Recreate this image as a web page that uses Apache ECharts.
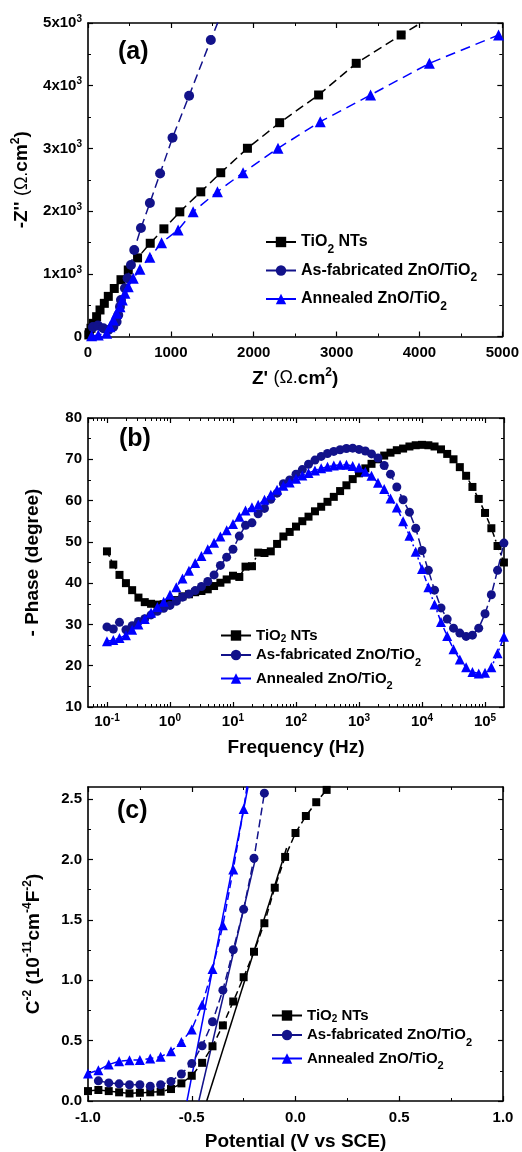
<!DOCTYPE html>
<html><head><meta charset="utf-8">
<script src="https://cdn.jsdelivr.net/npm/echarts@6/dist/echarts.min.js"></script>
<style>html,body{margin:0;padding:0;background:#fff}#c{width:522px;height:1152px}</style>
</head><body><div id="c"></div><script>
// ---------- DATA ----------
const NAMES = ['TiO2 NTs', 'As-fabricated ZnO/TiO2', 'Annealed ZnO/TiO2'];

// (a) Nyquist: Z' and -Z'' (ohm.cm2)
const A_TIO2_ZRE = [10,16,36,64,104,145,197,245,317,398,486,598,751,916,1108,1361,1602,1924,2313,2783,3237,3779,4330];
const A_TIO2_ZIM = [25,61,131,210,316,423,529,640,766,906,1061,1254,1487,1717,1988,2307,2612,3002,3410,3852,4357,4809,5250];
const A_ASF_ZRE = [60,120,185,245,305,345,365,386,398,446,478,518,558,639,747,870,1020,1220,1482,1700];
const A_ASF_ZIM = [150,175,131,104,156,236,343,475,582,769,928,1140,1380,1730,2130,2600,3171,3840,4729,5450];
const A_ANN_ZRE = [44,124,225,265,305,345,386,414,446,486,546,627,747,888,1088,1269,1562,1871,2293,2803,3410,4120,4955];
const A_ANN_ZIM = [10,24,51,156,263,370,475,582,689,794,928,1072,1263,1496,1699,1990,2310,2612,3002,3426,3852,4357,4809];

// (b) Bode phase
const B_FREQ = [0.1,0.126,0.158,0.2,0.251,0.316,0.398,0.501,0.631,0.794,
  1,1.26,1.58,2,2.51,3.16,3.98,5.01,6.31,7.94,
  10,12.6,15.8,20,25.1,31.6,39.8,50.1,63.1,79.4,
  100,126,158,200,251,316,398,501,631,794,
  1000,1260,1580,2000,2510,3160,3980,5010,6310,7940,
  10000,12600,15800,20000,25100,31600,39800,50100,63100,79400,
  100000,126000,158000,199500];
const B_TIO2 = [47.7,44.5,42.0,40.0,38.3,36.5,35.4,35.0,34.8,34.9,
  35.2,35.9,36.8,37.3,37.8,38.1,38.5,39.3,40.1,40.9,
  41.8,41.5,44.0,44.1,47.4,47.3,47.7,49.5,51.3,52.4,
  53.7,55.0,56.1,57.4,58.5,59.7,60.9,62.3,63.7,65.2,
  66.6,67.8,68.9,70.0,70.9,71.6,72.2,72.6,73.1,73.4,
  73.5,73.4,73.1,72.4,71.3,70.0,68.1,66.0,63.3,60.4,
  57.0,53.3,49.0,45.0];
const B_ASF = [29.4,28.9,30.5,28.7,29.7,30.7,31.4,32.3,33.2,33.9,
  34.6,35.6,36.6,37.4,38.2,39.2,40.4,42.0,44.3,46.3,
  48.2,51.4,54.0,54.6,56.8,58.1,60.3,61.8,64.1,65.0,
  66.4,67.5,68.8,69.8,70.7,71.4,71.9,72.3,72.6,72.7,
  72.4,72.0,71.3,70.3,68.5,66.4,63.3,60.2,57.2,53.3,
  47.9,43.1,38.3,34.0,31.3,29.1,27.9,27.1,27.4,29.1,
  32.6,37.2,43.1,49.7];
const B_ANN = [25.9,26.2,26.7,27.4,28.7,30.0,31.3,32.8,34.2,35.5,
  37.2,39.0,41.1,43.0,44.9,46.6,48.2,49.8,51.3,52.8,
  54.3,56.1,57.6,58.4,59.0,60.2,61.4,62.6,63.6,64.4,
  65.3,66.1,66.7,67.3,67.8,68.2,68.5,68.7,68.7,68.4,
  68.0,67.0,66.0,64.3,62.8,60.5,58.3,55.0,51.5,47.6,
  43.4,39.0,34.8,30.6,27.2,24.0,21.5,19.6,18.5,18.1,
  18.3,19.6,23.0,27.0];

// (c) Mott-Schottky
const C_TIO2_V = [-1.0,-0.95,-0.9,-0.85,-0.8,-0.75,-0.7,-0.65,-0.6,-0.55,-0.5,-0.45,-0.4,-0.35,-0.3,-0.25,-0.2,-0.15,-0.1,-0.05,0.0,0.05,0.1,0.15];
const C_TIO2_C = [0.082,0.091,0.082,0.072,0.063,0.068,0.072,0.077,0.099,0.146,0.209,0.316,0.453,0.626,0.824,1.025,1.236,1.472,1.766,2.021,2.219,2.36,2.474,2.576];
const C_ASF_V = [-0.95,-0.9,-0.85,-0.8,-0.75,-0.7,-0.65,-0.6,-0.55,-0.5,-0.45,-0.4,-0.35,-0.3,-0.25,-0.2,-0.15];
const C_ASF_C = [0.167,0.150,0.142,0.135,0.135,0.123,0.135,0.162,0.224,0.31,0.457,0.656,0.918,1.252,1.587,2.01,2.549];
const C_ANN_V = [-1.0,-0.95,-0.9,-0.85,-0.8,-0.75,-0.7,-0.65,-0.6,-0.55,-0.5,-0.45,-0.4,-0.35,-0.3,-0.25,-0.2];
const C_ANN_C = [0.228,0.255,0.302,0.329,0.338,0.34,0.352,0.366,0.412,0.489,0.593,0.797,1.093,1.455,1.917,2.417,3.0];
// linear fits
const FIT_TIO2_V = [-0.428,-0.043], FIT_TIO2_C = [0, 2.095];
const FIT_ASF_V = [-0.466,-0.19], FIT_ASF_C = [0, 2.03];
const FIT_ANN_V = [-0.523,-0.229], FIT_ANN_C = [0, 2.6];

// tick labels
const C_Y_MAJOR = [0,0.5,1.0,1.5,2.0,2.5];
const C_Y_MINOR = [0.25,0.75,1.25,1.75,2.25];

// ---------- STYLE ----------
const FONT = '"Liberation Sans", Arial, sans-serif';
const COL = ['#000000', '#12128a', '#0000ff'];
const zip = (a, b) => a.map((v, i) => [v, b[i]]);

function ax(extra) {
  return Object.assign({
    axisLine: {show: true, onZero: false, lineStyle: {color: '#000', width: 1.6}},
    axisTick: {show: true, inside: true, length: 5, lineStyle: {color: '#000', width: 1.2}},
    minorTick: {show: true, splitNumber: 2, length: 3, lineStyle: {color: '#000', width: 1}},
    splitLine: {show: false}, minorSplitLine: {show: false},
    axisLabel: {show: false}
  }, extra);
}
const LBL = {show: true, color: '#000', fontFamily: FONT, fontSize: 15, fontWeight: 'bold'};
const RICH = {
  n: {fontFamily: FONT, fontSize: 15, fontWeight: 'bold', color: '#000', lineHeight: 18},
  sup: {fontFamily: FONT, fontSize: 10, fontWeight: 'bold', color: '#000', verticalAlign: 'top', lineHeight: 10}
};
const NAME_RICH = {
  t: {fontFamily: FONT, fontSize: 19, fontWeight: 'bold', color: '#000', lineHeight: 24},
  o: {fontFamily: FONT, fontSize: 18, fontWeight: 'normal', color: '#000', lineHeight: 24},
  sup: {fontFamily: FONT, fontSize: 12, fontWeight: 'bold', color: '#000', verticalAlign: 'top', lineHeight: 12}
};
const NAME_STYLE = {fontFamily: FONT, fontSize: 19, fontWeight: 'bold', color: '#000', rich: NAME_RICH};

// minor ticks for log axis
const LOG_MINOR = [];
for (let e = -2; e <= 5; e++) for (let m = 2; m <= 9; m++) {
  const v = m * Math.pow(10, e);
  if (v > 0.05 && v < 2e5) LOG_MINOR.push(+v.toPrecision(3));
}

const xAxis = [
  // (a)
  ax({gridIndex: 0, type: 'value', min: 0, max: 5000, interval: 1000, position: 'bottom',
    axisLabel: Object.assign({}, LBL, {margin: 9, formatter: v => String(v)}),
    name: "{t|Z'} {o|(Ω.}{t|cm}{sup|2}{t|)}", nameLocation: 'middle', nameGap: 30, nameTextStyle: NAME_STYLE}),
  ax({gridIndex: 0, type: 'value', min: 0, max: 5000, interval: 1000, position: 'top'}),
  // (b)
  ax({gridIndex: 1, type: 'log', logBase: 10, min: 0.05, max: 2e5, position: 'bottom', minorTick: {show: false},
    axisLabel: Object.assign({}, LBL, {margin: 6, showMinLabel: false, showMaxLabel: false,
      formatter: v => '{n|10}{sup|' + Math.round(Math.log10(v)) + '}', rich: RICH}),
    name: 'Frequency (Hz)', nameLocation: 'middle', nameGap: 31, nameTextStyle: NAME_STYLE}),
  ax({gridIndex: 1, type: 'log', logBase: 10, min: 0.05, max: 2e5, position: 'top', minorTick: {show: false}}),
  ax({gridIndex: 1, type: 'log', logBase: 10, min: 0.05, max: 2e5, position: 'bottom', minorTick: {show: false},
    axisLine: {show: false, onZero: false}, axisTick: {show: true, inside: true, length: 3, customValues: LOG_MINOR, lineStyle: {color: '#000', width: 1}}}),
  ax({gridIndex: 1, type: 'log', logBase: 10, min: 0.05, max: 2e5, position: 'top', minorTick: {show: false},
    axisLine: {show: false, onZero: false}, axisTick: {show: true, inside: true, length: 3, customValues: LOG_MINOR, lineStyle: {color: '#000', width: 1}}}),
  // (c)
  ax({gridIndex: 2, type: 'value', min: -1, max: 1, interval: 0.5, position: 'bottom',
    axisLabel: Object.assign({}, LBL, {margin: 9, formatter: v => v.toFixed(1)}),
    name: 'Potential (V vs SCE)', nameLocation: 'middle', nameGap: 31, nameTextStyle: NAME_STYLE}),
  ax({gridIndex: 2, type: 'value', min: -1, max: 1, interval: 0.5, position: 'top'})
];

const yAxis = [
  // (a)
  ax({gridIndex: 0, type: 'value', min: 0, max: 5000, interval: 1000, position: 'left',
    axisLabel: Object.assign({}, LBL, {margin: 6, rich: RICH,
      formatter: v => v === 0 ? '{n|0}' : '{n|' + (v / 1000) + 'x10}{sup|3}'}),
    name: "{t|-Z''} {o|(Ω.}{t|cm}{sup|2}{t|)}", nameLocation: 'middle', nameGap: 54, nameTextStyle: NAME_STYLE}),
  ax({gridIndex: 0, type: 'value', min: 0, max: 5000, interval: 1000, position: 'right'}),
  // (b)
  ax({gridIndex: 1, type: 'value', min: 10, max: 80, interval: 10, position: 'left',
    axisLabel: Object.assign({}, LBL, {margin: 6}),
    name: '- Phase (degree)', nameLocation: 'middle', nameGap: 46, nameTextStyle: NAME_STYLE}),
  ax({gridIndex: 1, type: 'value', min: 10, max: 80, interval: 10, position: 'right'}),
  // (c)
  ax({gridIndex: 2, type: 'value', min: 0, max: 2.6, position: 'left', minorTick: {show: false},
    axisTick: {show: true, inside: true, length: 5, customValues: C_Y_MAJOR, lineStyle: {color: '#000', width: 1.2}},
    axisLabel: Object.assign({}, LBL, {margin: 6, customValues: C_Y_MAJOR, formatter: v => v.toFixed(1)}),
    name: '{t|C}{sup|-2}{t| (10}{sup|-11}{t|cm}{sup|-4}{t|F}{sup|-2}{t|)}', nameLocation: 'middle', nameGap: 42, nameTextStyle: NAME_STYLE}),
  ax({gridIndex: 2, type: 'value', min: 0, max: 2.6, position: 'right', minorTick: {show: false},
    axisTick: {show: true, inside: true, length: 5, customValues: C_Y_MAJOR, lineStyle: {color: '#000', width: 1.2}}}),
  ax({gridIndex: 2, type: 'value', min: 0, max: 2.6, position: 'left', minorTick: {show: false},
    axisLine: {show: false, onZero: false}, axisTick: {show: true, inside: true, length: 3, customValues: C_Y_MINOR, lineStyle: {color: '#000', width: 1}}}),
  ax({gridIndex: 2, type: 'value', min: 0, max: 2.6, position: 'right', minorTick: {show: false},
    axisLine: {show: false, onZero: false}, axisTick: {show: true, inside: true, length: 3, customValues: C_Y_MINOR, lineStyle: {color: '#000', width: 1}}})
];

const SYM = ['rect', 'circle', 'triangle'];
function ser(name, idx, xi, yi, data, size, dash) {
  return {type: 'line', name: name, xAxisIndex: xi, yAxisIndex: yi, data: data,
    symbol: SYM[idx], symbolSize: size, showAllSymbol: true, clip: true,
    lineStyle: {color: COL[idx], width: 1.5, type: dash},
    itemStyle: {color: COL[idx]}, emphasis: {disabled: true}, z: 3 + idx};
}
function fit(idx, data) {
  return {type: 'line', name: 'fit' + idx, xAxisIndex: 6, yAxisIndex: 4, data: data, symbol: 'none', clip: true,
    lineStyle: {color: COL[idx], width: 1.5, type: 'solid'}, emphasis: {disabled: true}, z: 2};
}

const series = [
  ser(NAMES[0], 0, 0, 0, zip(A_TIO2_ZRE, A_TIO2_ZIM), [9, 9], [9, 5]),
  ser(NAMES[1], 1, 0, 0, zip(A_ASF_ZRE, A_ASF_ZIM), 10, [9, 5]),
  ser(NAMES[2], 2, 0, 0, zip(A_ANN_ZRE, A_ANN_ZIM), 11, [10, 6]),
  ser(NAMES[0], 0, 2, 2, zip(B_FREQ, B_TIO2), [8, 8], [6, 3, 2, 3]),
  ser(NAMES[1], 1, 2, 2, zip(B_FREQ, B_ASF), 9, [8, 4]),
  ser(NAMES[2], 2, 2, 2, zip(B_FREQ, B_ANN), 10, [6, 3, 2, 3]),
  fit(0, zip(FIT_TIO2_V, FIT_TIO2_C)),
  fit(1, zip(FIT_ASF_V, FIT_ASF_C)),
  fit(2, zip(FIT_ANN_V, FIT_ANN_C)),
  ser(NAMES[0], 0, 6, 4, zip(C_TIO2_V, C_TIO2_C), [8, 8], [7, 4]),
  ser(NAMES[1], 1, 6, 4, zip(C_ASF_V, C_ASF_C), 9, [8, 4]),
  ser(NAMES[2], 2, 6, 4, zip(C_ANN_V, C_ANN_C), 10, [8, 4])
];

function legend(left, top, gap, fs, small) {
  return {orient: 'vertical', left: left, top: top, itemGap: gap, itemWidth: 30, itemHeight: 13,
    data: NAMES, selectedMode: false,
    lineStyle: {type: 'solid', width: 2},
    formatter: n => {
      if (small && n === NAMES[0]) return '{t|TiO}{s|2}{t| NTs}';
      return n.replace('TiO2', '{t|TiO}{sub|2}').replace(/^([^{]+)/, '{t|$1}').replace(/^\{t\|\{t\|/, '{t|');
    },
    textStyle: {fontFamily: FONT, fontSize: fs, fontWeight: 'bold', color: '#000',
      rich: {
        t: {fontFamily: FONT, fontSize: fs, fontWeight: 'bold', color: '#000', lineHeight: fs + 3},
        s: {fontFamily: FONT, fontSize: fs - 5, fontWeight: 'bold', color: '#000', verticalAlign: 'bottom', lineHeight: fs},
        sub: {fontFamily: FONT, fontSize: fs - 4, fontWeight: 'bold', color: '#000', verticalAlign: 'bottom', lineHeight: 10, padding: [0, 0, -4, 0]}
      }}};
}

const option = {
  animation: false,
  backgroundColor: '#fff',
  grid: [
    {left: 88, top: 23, width: 415, height: 313.5},
    {left: 88, top: 418, width: 416, height: 289},
    {left: 88, top: 787, width: 415, height: 316}
  ],
  xAxis: xAxis, yAxis: yAxis, series: series,
  legend: [legend(260, 229, 7, 16, false), legend(215, 623, 3, 15, true), legend(266, 1003, 3, 15, true)],
  graphic: [
    {type: 'text', left: 118, top: 40, style: {text: '(a)', font: 'bold 25px ' + FONT, fill: '#000'}},
    {type: 'text', left: 119, top: 427, style: {text: '(b)', font: 'bold 25px ' + FONT, fill: '#000'}},
    {type: 'text', left: 117, top: 799, style: {text: '(c)', font: 'bold 25px ' + FONT, fill: '#000'}}
  ]
};
const chart = echarts.init(document.getElementById('c'), null, {renderer: 'canvas'});
chart.setOption(option);
</script></body></html>
